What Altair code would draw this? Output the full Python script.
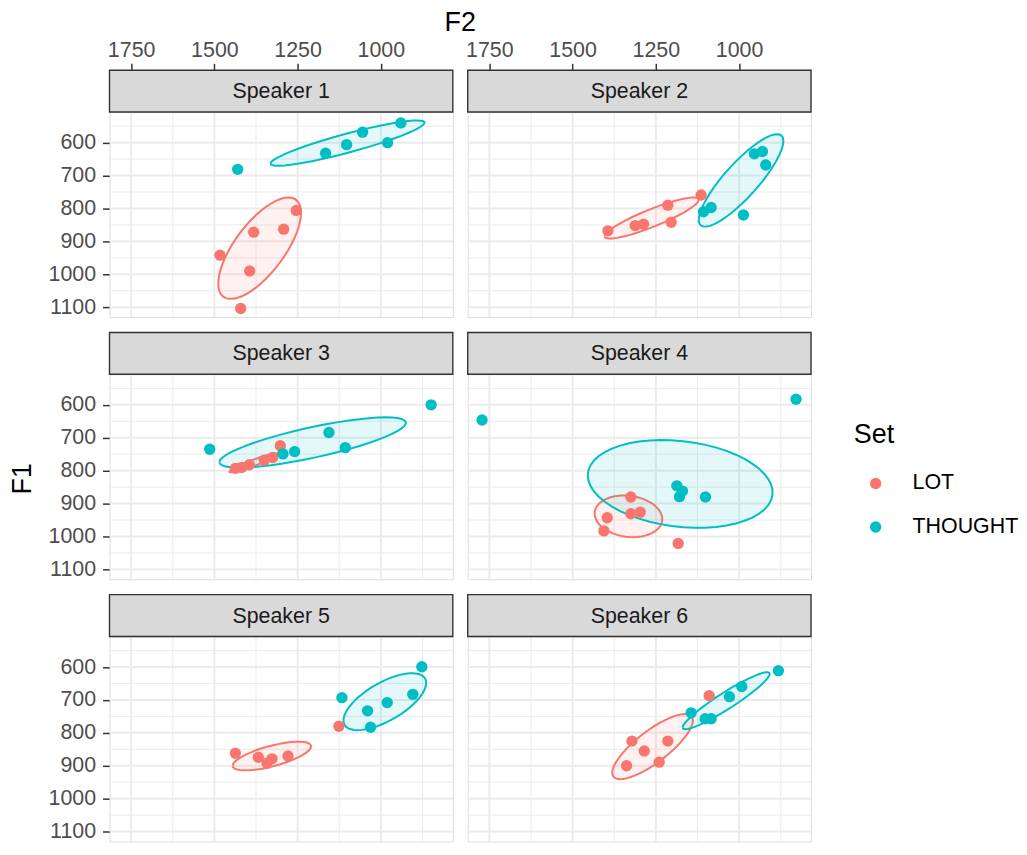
import altair as alt
import numpy as np
import pandas as pd

FONT = "Liberation Sans"
speakers = ["Speaker 1", "Speaker 2", "Speaker 3", "Speaker 4", "Speaker 5", "Speaker 6"]
sets = ["LOT", "THOUGHT"]
set_colors = ["#F8766D", "#00BFC4"]

# F2 / F1 values, per speaker and vowel set
s1_lot_f2 = [1254, 1292, 1382, 1483, 1394, 1421]
s1_lot_f1 = [806, 863, 872, 942, 990, 1104]
s1_th_f2 = [940, 980, 1055, 1103, 1166, 1430]
s1_th_f1 = [540, 600, 568, 606, 632, 681]

s2_lot_f2 = [1394, 1312, 1287, 1214, 1204, 1114]
s2_lot_f1 = [868, 852, 848, 790, 842, 759]
s2_th_f2 = [954, 930, 920, 1084, 1107, 987]
s2_th_f1 = [634, 627, 668, 797, 810, 820]

s3_lot_f2 = [1437, 1418, 1395, 1350, 1325, 1302]
s3_lot_f1 = [793, 790, 782, 768, 760, 724]
s3_th_f2 = [849, 1156, 1107, 1259, 1294, 1514]
s3_th_f1 = [600, 684, 730, 742, 749, 735]

s4_lot_f2 = [1325, 1297, 1325, 1396, 1406, 1183]
s4_lot_f1 = [880, 926, 931, 943, 983, 1021]
s4_th_f2 = [1772, 829, 1187, 1170, 1179, 1101]
s4_th_f1 = [646, 583, 846, 862, 879, 880]

s5_lot_f2 = [1126, 1437, 1368, 1327, 1342, 1279]
s5_lot_f1 = [780, 862, 874, 879, 892, 870]
s5_th_f2 = [877, 904, 981, 1040, 1117, 1031]
s5_th_f1 = [599, 683, 708, 733, 693, 783]

s6_lot_f2 = [1090, 1322, 1214, 1285, 1338, 1240]
s6_lot_f1 = [687, 825, 825, 855, 900, 889]
s6_th_f2 = [882, 992, 1029, 1144, 1102, 1084]
s6_th_f1 = [611, 659, 690, 739, 757, 757]

x_major = [1750, 1500, 1250, 1000]
x_minor = [1625, 1375, 1125, 875]
y_major = [600, 700, 800, 900, 1000, 1100]
y_minor = [550, 650, 750, 850, 950, 1050]
X_DOMAIN = [784, 1815]
Y_DOMAIN = [507, 1130]
ELLIPSE_LEVEL = 0.68

table = {
    "Speaker 1": {"LOT": (s1_lot_f2, s1_lot_f1), "THOUGHT": (s1_th_f2, s1_th_f1)},
    "Speaker 2": {"LOT": (s2_lot_f2, s2_lot_f1), "THOUGHT": (s2_th_f2, s2_th_f1)},
    "Speaker 3": {"LOT": (s3_lot_f2, s3_lot_f1), "THOUGHT": (s3_th_f2, s3_th_f1)},
    "Speaker 4": {"LOT": (s4_lot_f2, s4_lot_f1), "THOUGHT": (s4_th_f2, s4_th_f1)},
    "Speaker 5": {"LOT": (s5_lot_f2, s5_lot_f1), "THOUGHT": (s5_th_f2, s5_th_f1)},
    "Speaker 6": {"LOT": (s6_lot_f2, s6_lot_f1), "THOUGHT": (s6_th_f2, s6_th_f1)},
}


def cov_trob(x, nu=5, maxit=25, tol=0.01):
    # port of MASS::cov.trob (used by ggplot2 stat_ellipse, type = "t")
    n, p = x.shape
    wt = np.ones(n)
    loc = x.mean(axis=0)
    w = np.sqrt(wt)
    X = x - loc
    for _ in range(maxit):
        w0 = w
        X = x - loc
        S = (w[:, None] * X).T @ X / w.sum()
        Q = np.einsum("ij,jk,ik->i", X, np.linalg.inv(S), X)
        w = wt * (nu + p) / (nu + Q)
        loc = (w[:, None] * x).sum(axis=0) / w.sum()
        if np.all(np.abs(w - w0) < tol):
            break
    cov = (w[:, None] * X).T @ X / wt.sum()
    return cov, loc


def ellipse(f2, f1, level=ELLIPSE_LEVEL, segments=51):
    x = np.column_stack([f2, f1]).astype(float)
    cov, center = cov_trob(x)
    dfd = len(f2) - 1
    qf = (dfd / 2.0) * ((1 - level) ** (-2.0 / dfd) - 1)  # qf(level, 2, dfd)
    radius = np.sqrt(2 * qf)
    ang = np.arange(segments + 1) * 2 * np.pi / segments
    circle = np.column_stack([np.cos(ang), np.sin(ang)])
    R = np.linalg.cholesky(cov).T
    return center + radius * (circle @ R)


pt_rows, ell_rows = [], []
for sp in speakers:
    for st in sets:
        f2, f1 = table[sp][st]
        for a, b in zip(f2, f1):
            pt_rows.append({"speaker": sp, "Set": st, "F2": a, "F1": b})
        for i, (a, b) in enumerate(ellipse(f2, f1)):
            ell_rows.append({"speaker": sp, "Set": st, "F2": a, "F1": b, "i": i})
points_df = pd.DataFrame(pt_rows)
ell_df = pd.DataFrame(ell_rows)

PW, PH, SH = 345, 206, 42

legend = alt.Legend(
    title="Set", orient="none", legendX=748, legendY=312,
    titleFontSize=27, titleFont=FONT, titleColor="black", titleFontWeight="normal",
    labelFontSize=21.5, labelFont=FONT, labelColor="black",
    symbolSize=130, symbolType="circle", symbolOffset=11.2, labelOffset=26.3,
    rowPadding=20.7, titlePadding=23.5, symbolStrokeWidth=0, symbolOpacity=1,
)
color = alt.Color("Set:N", scale=alt.Scale(domain=sets, range=set_colors), legend=legend)


def panel(k):
    sp = speakers[k]
    row, col = k // 2, k % 2
    xs = alt.Scale(domain=X_DOMAIN, reverse=True, nice=False, zero=False)
    ys = alt.Scale(domain=Y_DOMAIN, reverse=True, nice=False, zero=False)
    if row == 0:
        xaxis = alt.Axis(orient="top", values=x_major, offset=SH, title=None, grid=False,
                         domain=False, tickSize=7, tickWidth=1.5, tickColor="#333333",
                         labelFontSize=21.5, labelFont=FONT, labelColor="#4D4D4D",
                         labelPadding=2, format="d")
    else:
        xaxis = None
    if col == 0:
        yaxis = alt.Axis(values=y_major, title=None, grid=False, domain=False,
                         tickSize=7, tickWidth=1.5, tickColor="#333333",
                         labelFontSize=21.5, labelFont=FONT, labelColor="#4D4D4D",
                         labelPadding=7, format="d")
    else:
        yaxis = None

    def X(f):
        return alt.X(f"{f}:Q", scale=xs, axis=xaxis)

    def Y(f):
        return alt.Y(f"{f}:Q", scale=ys, axis=yaxis)

    layers = [
        alt.Chart(pd.DataFrame({"F2": x_minor})).mark_rule(color="#EBEBEB", strokeWidth=1).encode(x=X("F2")),
        alt.Chart(pd.DataFrame({"F1": y_minor})).mark_rule(color="#EBEBEB", strokeWidth=1).encode(y=Y("F1")),
        alt.Chart(pd.DataFrame({"F2": x_major})).mark_rule(color="#EBEBEB", strokeWidth=2).encode(x=X("F2")),
        alt.Chart(pd.DataFrame({"F1": y_major})).mark_rule(color="#EBEBEB", strokeWidth=2).encode(y=Y("F1")),
    ]
    for st, c in zip(sets, set_colors):
        d = ell_df[(ell_df.speaker == sp) & (ell_df.Set == st)]
        layers.append(alt.Chart(d).mark_line(fill=c, fillOpacity=0.1, stroke=c, strokeWidth=2, clip=True)
                      .encode(x=X("F2"), y=Y("F1"), order=alt.Order("i:Q")))
    d = points_df[points_df.speaker == sp]
    layers.append(alt.Chart(d).mark_circle(size=130, opacity=1).encode(x=X("F2"), y=Y("F1"), color=color))
    lab = pd.DataFrame({"label": [sp]})
    layers.append(alt.Chart(lab).mark_rect(fill="#D9D9D9", stroke="#333333", strokeWidth=1.4)
                  .encode(x=alt.value(0), x2=alt.value(PW), y=alt.value(-SH), y2=alt.value(0)))
    layers.append(alt.Chart(lab).mark_text(fontSize=21.5, font=FONT, color="#1A1A1A", baseline="middle")
                  .encode(x=alt.value(PW / 2), y=alt.value(-SH / 2 + 1), text="label:N"))
    if k == 0:
        layers.append(alt.Chart(pd.DataFrame({"t": ["F2"]})).mark_text(fontSize=27, font=FONT, color="black", baseline="alphabetic")
                      .encode(x=alt.value(PW + 7.5), y=alt.value(-81.5), text="t:N"))
    if k == 2:
        layers.append(alt.Chart(pd.DataFrame({"t": ["F1"]})).mark_text(fontSize=27, font=FONT, color="black", baseline="middle", angle=270)
                      .encode(x=alt.value(-86.6), y=alt.value(PH / 2 + 2), text="t:N"))
    return alt.layer(*layers).properties(width=PW, height=PH)


chart = alt.concat(*[panel(k) for k in range(6)], columns=2, spacing={"row": 57.5, "column": 15}, bounds="flush").properties(
    padding={"left": 0, "top": -1.5, "right": 0, "bottom": 0}
).configure_view(stroke="#333333", strokeWidth=1.4).configure(background="white")

chart.save("out.html", embed_options={"renderer": "svg", "actions": False})
